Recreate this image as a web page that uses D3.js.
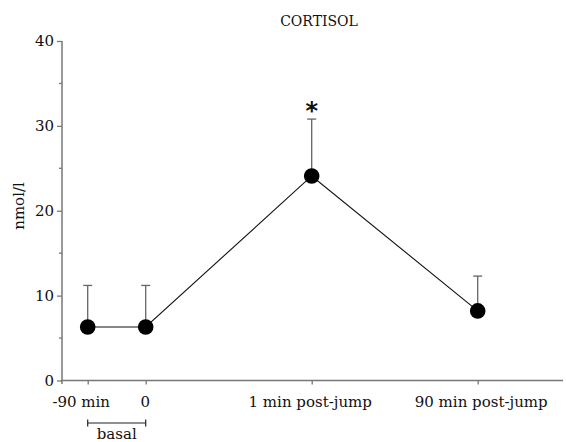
<!DOCTYPE html>
<html>
<head>
<meta charset="utf-8">
<script src="https://cdn.jsdelivr.net/npm/d3@7/dist/d3.min.js"></script>
<style>
  body { margin: 0; background: #fff; }
  text { font-family: "DejaVu Serif", serif; fill: #111; }
</style>
</head>
<body>
<div id="chart"></div>
<script>
var categories = ["-90 min", "0", "1 min post-jump", "90 min post-jump"];
var means = [6.3, 6.3, 24.1, 8.2];
var upper = [11.2, 11.2, 30.8, 12.3];
var significant = [false, false, true, false];
var yTicks = [0, 10, 20, 30, 40];
var yMinor = [5, 15, 25, 35];

var width = 566, height = 442;
var svg = d3.select("#chart").append("svg").attr("width", width).attr("height", height);

var y = d3.scaleLinear().domain([0, 40]).range([380.5, 41]);
var x = d3.scaleOrdinal().domain(categories).range([87.7, 145.7, 311.7, 477.7]);
var labelShift = [-7, -1, -2, 3];
var axisColor = "#777";

// title
svg.append("text").attr("x", 319).attr("y", 26).attr("text-anchor", "middle")
  .style("font-size", "14px").text("CORTISOL");

// y label
svg.append("text").attr("transform", "translate(24,206) rotate(-90)")
  .attr("text-anchor", "middle").style("font-size", "15px").text("nmol/l");

// y axis
var gy = svg.append("g").attr("transform", "translate(62,0)")
  .call(d3.axisLeft(y).tickValues(yTicks).tickSize(5).tickPadding(3).tickFormat(d3.format("d")));
gy.select(".domain").attr("stroke", axisColor).attr("stroke-width", 1.5).attr("d", "M0,41V384");
gy.selectAll(".tick line").attr("stroke", axisColor).attr("stroke-width", 1.3);
gy.selectAll(".tick text").style("font-size", "15px").style("font-family", "DejaVu Serif");
gy.selectAll(".minor").data(yMinor).enter().append("line")
  .attr("x1", -3).attr("x2", 0).attr("y1", y).attr("y2", y)
  .attr("stroke", axisColor).attr("stroke-width", 1.3);

// x axis
var gx = svg.append("g").attr("transform", "translate(0,380.5)")
  .call(d3.axisBottom(x).tickSize(4).tickPadding(12));
gx.select(".domain").remove();
gx.insert("line", ":first-child").attr("x1", 61).attr("x2", 563)
  .attr("stroke", axisColor).attr("stroke-width", 1.5);
gx.selectAll(".tick line").attr("stroke", axisColor).attr("stroke-width", 1.3);
gx.selectAll(".tick text").style("font-size", "15px").style("font-family", "DejaVu Serif")
  .attr("dx", function (d, i) { return labelShift[i]; });

// basal bracket
var bx0 = x(categories[0]), bx1 = x(categories[1]);
var bracket = svg.append("g").attr("stroke", "#222").attr("stroke-width", 1.2);
bracket.append("line").attr("x1", bx0).attr("x2", bx1).attr("y1", 423).attr("y2", 423);
bracket.append("line").attr("x1", bx0).attr("x2", bx0).attr("y1", 419.5).attr("y2", 426.5);
bracket.append("line").attr("x1", bx1).attr("x2", bx1).attr("y1", 419.5).attr("y2", 426.5);
svg.append("text").attr("x", (bx0 + bx1) / 2).attr("y", 439).attr("text-anchor", "middle")
  .style("font-size", "15px").text("basal");

var data = categories.map(function (c, i) {
  return { cat: c, mean: means[i], up: upper[i], sig: significant[i] };
});

// error bars
var err = svg.append("g").attr("stroke", "#666").attr("stroke-width", 1.3);
err.selectAll(".bar").data(data).enter().append("line")
  .attr("x1", function (d) { return x(d.cat); }).attr("x2", function (d) { return x(d.cat); })
  .attr("y1", function (d) { return y(d.mean); }).attr("y2", function (d) { return y(d.up); });
err.selectAll(".cap").data(data).enter().append("line")
  .attr("x1", function (d) { return x(d.cat) - 4.5; }).attr("x2", function (d) { return x(d.cat) + 4.5; })
  .attr("y1", function (d) { return y(d.up); }).attr("y2", function (d) { return y(d.up); });

// connecting line
var line = d3.line().x(function (d) { return x(d.cat); }).y(function (d) { return y(d.mean); });
svg.append("path").datum(data).attr("d", line).attr("fill", "none")
  .attr("stroke", "#111").attr("stroke-width", 1.1);

// points
svg.selectAll(".pt").data(data).enter().append("circle")
  .attr("cx", function (d) { return x(d.cat); }).attr("cy", function (d) { return y(d.mean); })
  .attr("r", 7.8).attr("fill", "#000");

// significance marker
svg.selectAll(".star").data(data.filter(function (d) { return d.sig; })).enter().append("text")
  .attr("x", function (d) { return x(d.cat); }).attr("y", function (d) { return y(d.up) - 0.5; })
  .attr("text-anchor", "middle").style("font-family", "DejaVu Sans").style("font-weight", "bold")
  .style("font-size", "24px").text("*");
</script>
</body>
</html>
